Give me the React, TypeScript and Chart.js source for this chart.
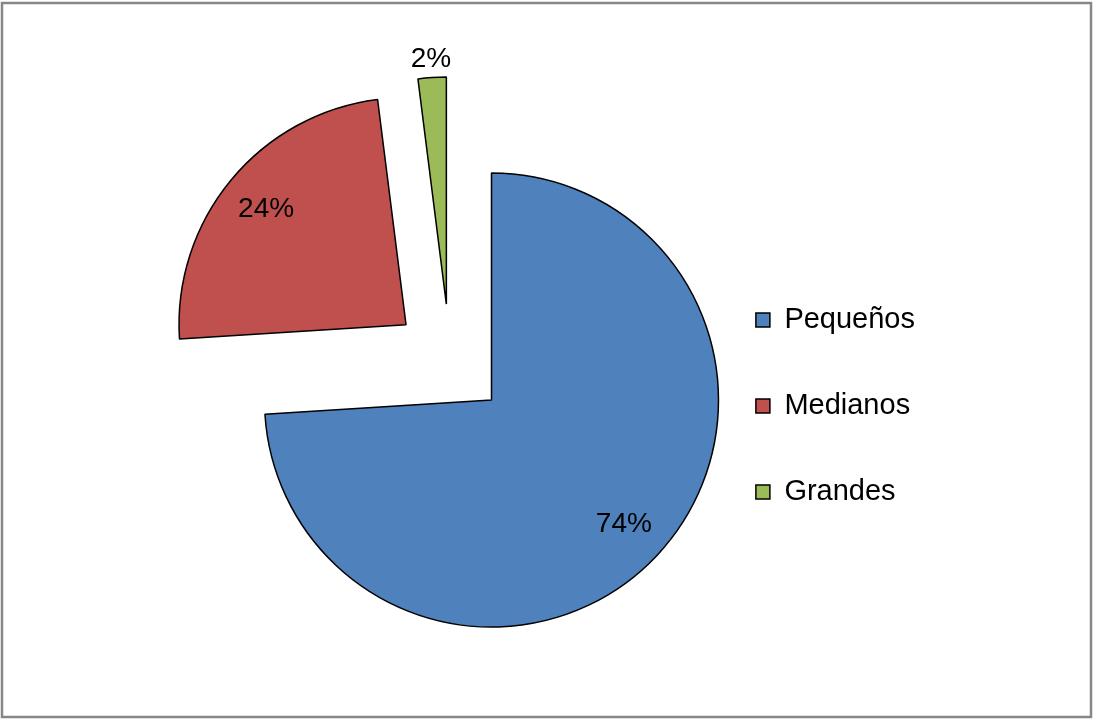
import React, { useEffect, useRef } from "react";
import { Chart, registerables } from "chart.js";

Chart.register(...registerables);

const categories = ["Pequeños", "Medianos", "Grandes"];
const values = [74, 24, 2];
const sliceColors = ["#4F81BD", "#C0504D", "#9BBB59"];
const explodeDistances = [57, 57, 57];
const labelRadiusFractions = [0.8, 0.8, 1.08];

const FONT = "'Liberation Sans', Arial, sans-serif";

const framePlugin = {
  id: "frame",
  beforeDraw(chart: any) {
    const ctx = chart.ctx;
    ctx.save();
    ctx.fillStyle = "#ffffff";
    ctx.fillRect(0, 0, chart.width, chart.height);
    ctx.strokeStyle = "#878787";
    ctx.lineWidth = 2.5;
    ctx.strokeRect(2, 3, 1089, 714);
    ctx.restore();
  },
};

const explodePlugin = {
  id: "explode",
  beforeDatasetDraw(chart: any, args: any) {
    const ctx = chart.ctx;
    const meta = args.meta;
    meta.data.forEach((arc: any, i: number) => {
      const { startAngle, endAngle } = arc.getProps(["startAngle", "endAngle"], true);
      const mid = (startAngle + endAngle) / 2;
      const d = explodeDistances[i] || 0;
      ctx.save();
      ctx.translate(Math.cos(mid) * d, Math.sin(mid) * d);
      arc.draw(ctx, chart.chartArea);
      ctx.restore();
    });
    return false;
  },
};

const labelPlugin = {
  id: "pctLabels",
  afterDatasetsDraw(chart: any) {
    const ctx = chart.ctx;
    const meta = chart.getDatasetMeta(0);
    const total = values.reduce((a, b) => a + b, 0);
    ctx.save();
    ctx.font = `28px ${FONT}`;
    ctx.fillStyle = "#000000";
    ctx.textAlign = "center";
    ctx.textBaseline = "middle";
    meta.data.forEach((arc: any, i: number) => {
      const { x, y, startAngle, endAngle, outerRadius } = arc.getProps(
        ["x", "y", "startAngle", "endAngle", "outerRadius"],
        true
      );
      const mid = (startAngle + endAngle) / 2;
      const dist = (explodeDistances[i] || 0) + outerRadius * labelRadiusFractions[i];
      const pct = Math.round((values[i] / total) * 100);
      ctx.fillText(`${pct}%`, x + Math.cos(mid) * dist, y + Math.sin(mid) * dist);
    });
    ctx.restore();
  },
};

export default function App() {
  const canvasRef = useRef<HTMLCanvasElement | null>(null);

  useEffect(() => {
    document.body.style.margin = "0";
    const canvas = canvasRef.current;
    if (!canvas) return;
    const chart = new Chart(canvas, {
      type: "pie",
      data: {
        labels: categories,
        datasets: [
          {
            data: values,
            backgroundColor: sliceColors,
            borderColor: "#000000",
            borderWidth: 1.5,
            radius: 227,
          } as any,
        ],
      },
      options: {
        responsive: false,
        animation: false,
        devicePixelRatio: 1,
        layout: { padding: { left: 201, right: 168, top: 20, bottom: 18 } },
        plugins: {
          tooltip: { enabled: false },
          legend: {
            display: true,
            position: "right",
            align: "center",
            title: {
              display: true,
              text: " ",
              font: { size: 10, lineHeight: 1 },
              padding: { top: 80, bottom: 0 },
            },
            labels: {
              boxWidth: 14,
              boxHeight: 14,
              padding: 57,
              color: "#000000",
              font: { size: 29, family: FONT },
            },
          },
        },
      } as any,
      plugins: [framePlugin, explodePlugin, labelPlugin],
    });
    return () => chart.destroy();
  }, []);

  return (
    <div style={{ width: 1093, height: 720 }}>
      <canvas ref={canvasRef} width={1093} height={720} />
    </div>
  );
}
